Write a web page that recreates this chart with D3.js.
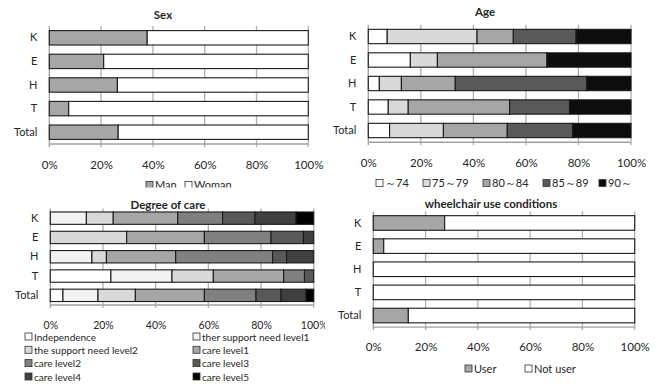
<!DOCTYPE html>
<html><head><meta charset="utf-8">
<script src="https://cdn.jsdelivr.net/npm/d3@7/dist/d3.min.js"></script>
<style>
html,body{margin:0;padding:0;background:#fff;}
svg{display:block;font-family:"Lato","Open Sans",sans-serif;}
</style></head><body>
<svg id="chart" width="658" height="385"></svg>
<script>
// ---------- data ----------
const categories = ["K","E","H","T","Total"];
const tickValues = [0,20,40,60,80,100];
const tickLabels = ["0%","20%","40%","60%","80%","100%"];

// Sex
const sexSeries = ["Man","Woman"];
const sexMan   = [37.8,21.0,26.3,7.5,26.6];
const sexWoman = [62.2,79.0,73.7,92.5,73.4];

// Age
const ageSeries = ["～74","75～79","80～84","85～89","90～"];
const age74   = [7.2,16.0,4.2,7.6,8.1];
const age75   = [34.2,10.3,8.4,7.6,20.5];
const age80   = [13.8,41.7,20.5,38.6,24.3];
const age85   = [23.9,0,50.0,22.8,24.9];
const age90   = [20.9,32.0,16.9,23.4,22.2];

// Degree of care
const careSeries = ["Independence","ther support  need level1","the support  need level2","care level1","care level2","care level3","care level4","care level5"];
const careIndep = [0,0,0,23.0,4.8];
const careSup1  = [13.7,0,15.8,23.2,13.3];
const careSup2  = [10.2,29.0,5.5,15.7,14.2];
const careL1    = [24.5,29.5,26.3,26.7,26.2];
const careL2    = [17.0,25.3,36.8,7.9,19.6];
const careL3    = [12.3,12.3,5.3,3.5,9.5];
const careL4    = [15.6,3.9,10.3,0,9.5];
const careL5    = [6.7,0,0,0,2.9];

// Wheelchair
const wheelSeries = ["User","Not user"];
const wheelUser    = [27.3,4.0,0,0,13.4];
const wheelNotUser = [72.7,96.0,100,100,86.6];

// ---------- drawing ----------
const svg = d3.select("#chart");
const defs = svg.append("defs");
const textColor = "#262626";

function panel(opt){
  const clipId = "clip" + opt.id;
  defs.append("clipPath").attr("id", clipId).append("rect")
    .attr("x", opt.clip[0]).attr("y", opt.clip[1]).attr("width", opt.clip[2]).attr("height", opt.clip[3]);
  const g = svg.append("g").attr("clip-path", `url(#${clipId})`);

  const x = d3.scaleLinear().domain([0,100]).range([opt.left, opt.right]);
  const y = d3.scaleBand().domain(categories).range([opt.top, opt.bottom])
    .paddingInner(opt.pad).paddingOuter(opt.pad/2);

  // gridlines
  g.append("g").selectAll("line").data(tickValues.slice(1)).join("line")
    .attr("x1", d=>x(d)).attr("x2", d=>x(d)).attr("y1", opt.top).attr("y2", opt.bottom+3)
    .attr("stroke", "#b0b0b0").attr("stroke-width", 1.3);
  // left axis
  g.append("line").attr("x1", x(0)).attr("x2", x(0)).attr("y1", opt.top).attr("y2", opt.bottom+3)
    .attr("stroke", "#a0a0a0").attr("stroke-width", 1.3);
  // bottom axis
  g.append("line").attr("x1", x(0)).attr("x2", x(100)).attr("y1", opt.bottom).attr("y2", opt.bottom)
    .attr("stroke", "#a0a0a0").attr("stroke-width", 1.3);

  // stacked bars
  const rows = categories.map((c,i)=>{ const r={cat:c}; opt.keys.forEach((k,j)=>r[k]=opt.values[j][i]); return r; });
  const stacked = d3.stack().keys(opt.keys)(rows);
  g.append("g").selectAll("g").data(stacked).join("g")
    .attr("fill", (d,i)=>opt.colors[i])
    .selectAll("rect").data(d=>d.filter(s=>s[1]-s[0]>0)).join("rect")
    .attr("x", d=>x(d[0])).attr("width", d=>x(d[1])-x(d[0]))
    .attr("y", d=>y(d.data.cat)).attr("height", y.bandwidth())
    .attr("stroke", "#1a1a1a").attr("stroke-width", 1.1);

  // category axis labels
  const yAxis = d3.axisLeft(y).tickSize(0).tickPadding(12);
  const ya = g.append("g").attr("transform", `translate(${opt.left},0)`).call(yAxis);
  ya.select(".domain").remove();
  ya.selectAll("text").attr("fill", textColor).attr("font-size", 11).attr("font-family","Lato, sans-serif");

  // x tick labels
  const xAxis = d3.axisBottom(x).tickValues(tickValues).tickFormat((d,i)=>tickLabels[i]).tickSize(0).tickPadding(0);
  const xa = g.append("g").attr("transform", `translate(0,${opt.tickY})`).call(xAxis);
  xa.select(".domain").remove();
  xa.selectAll("text").attr("fill", textColor).attr("font-size", opt.tickSize||11.5).attr("dy", "0.35em").attr("font-family","Lato, sans-serif");

  // title
  g.append("text").attr("x", opt.titleX).attr("y", opt.titleY).attr("text-anchor","middle")
    .attr("dy","0.35em").attr("font-weight","bold").attr("font-size", 11.5).attr("fill", textColor).text(opt.title);

  // legend
  const lg = g.append("g").selectAll("g").data(opt.legend).join("g")
    .attr("transform", d=>`translate(${d.x},${d.y})`);
  lg.append("rect").attr("x",0).attr("y",-4).attr("width",7).attr("height",7)
    .attr("fill", d=>opt.colors[d.i]).attr("stroke","#333").attr("stroke-width",0.8);
  lg.append("text").attr("x",9).attr("y",0).attr("dy","0.35em").attr("font-size", opt.legendSize||11)
    .attr("fill", textColor).text(d=>d.label);
}

// Sex
panel({id:1, clip:[0,0,329,187.5], left:49.3, right:308.3, top:26, bottom:144, pad:0.39,
  keys:sexSeries, values:[sexMan, sexWoman], colors:["#a6a6a6","#ffffff"],
  tickY:165, title:"Sex", titleX:163, titleY:15,
  legend:[{i:0,label:sexSeries[0],x:146,y:185.5},{i:1,label:sexSeries[1],x:185,y:185.5}]});

// Age
panel({id:2, clip:[329,0,329,187.5], left:368.3, right:631, top:24.75, bottom:142.25, pad:0.39,
  keys:ageSeries, values:[age74,age75,age80,age85,age90],
  colors:["#ffffff","#d9d9d9","#a6a6a6","#595959","#0d0d0d"],
  tickY:163, title:"Age", titleX:485, titleY:12,
  legend:[{i:0,label:ageSeries[0],x:376,y:183.5},{i:1,label:ageSeries[1],x:423,y:183.5},
          {i:2,label:ageSeries[2],x:483,y:183.5},{i:3,label:ageSeries[3],x:543,y:183.5},
          {i:4,label:ageSeries[4],x:599,y:183.5}]});

// Degree of care
panel({id:3, clip:[0,190,325,195], left:50.3, right:313.7, top:208.5, bottom:305, pad:0.36,
  keys:careSeries, values:[careIndep,careSup1,careSup2,careL1,careL2,careL3,careL4,careL5],
  colors:["#ffffff","#f2f2f2","#d9d9d9","#a6a6a6","#808080","#595959","#404040","#000000"],
  tickY:325, tickSize:10.5, title:"Degree of care", titleX:168, titleY:205, legendSize:10,
  legend:[{i:0,label:careSeries[0],x:25,y:337},{i:1,label:careSeries[1],x:193,y:337},
          {i:2,label:careSeries[2],x:25,y:350.3},{i:3,label:careSeries[3],x:193,y:350.3},
          {i:4,label:careSeries[4],x:25,y:363.6},{i:5,label:careSeries[5],x:193,y:363.6},
          {i:6,label:careSeries[6],x:25,y:377},{i:7,label:careSeries[7],x:193,y:377}]});

// Wheelchair
panel({id:4, clip:[329,190,329,195], left:373.3, right:634.7, top:211.4, bottom:327.1, pad:0.37,
  keys:wheelSeries, values:[wheelUser, wheelNotUser], colors:["#a6a6a6","#ffffff"],
  tickY:347, title:"wheelchair use conditions", titleX:491, titleY:204,
  legend:[{i:0,label:wheelSeries[0],x:465,y:369},{i:1,label:wheelSeries[1],x:525,y:369}]});
</script>
</body></html>
